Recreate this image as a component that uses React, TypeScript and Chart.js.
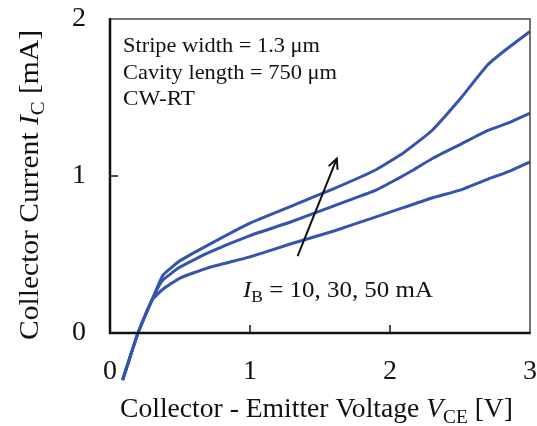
import React, { useEffect, useRef } from "react";
import { Chart, registerables } from "chart.js";

Chart.register(...registerables);

const vce10 = [0.09, 0.2, 0.3, 0.38, 0.5, 0.7, 1.0, 1.3, 1.6, 1.9, 2.1, 2.3, 2.5, 2.7, 2.85, 3.0];
const ic10 = [-0.3, 0, 0.21, 0.28, 0.35, 0.415, 0.485, 0.57, 0.65, 0.74, 0.8, 0.86, 0.91, 0.98, 1.03, 1.09];
const vce30 = [0.09, 0.2, 0.3, 0.37, 0.5, 0.7, 1.0, 1.3, 1.6, 1.9, 2.05, 2.15, 2.3, 2.5, 2.7, 2.85, 3.0];
const ic30 = [-0.3, 0, 0.21, 0.33, 0.42, 0.51, 0.62, 0.71, 0.81, 0.91, 0.98, 1.03, 1.11, 1.2, 1.29, 1.34, 1.4];
const vce50 = [0.09, 0.2, 0.3, 0.38, 0.5, 0.7, 1.0, 1.3, 1.6, 1.9, 2.1, 2.3, 2.5, 2.7, 2.85, 3.0];
const ic50 = [-0.3, 0, 0.21, 0.37, 0.46, 0.56, 0.7, 0.81, 0.92, 1.04, 1.15, 1.29, 1.49, 1.71, 1.82, 1.92];

const xTicks = [0, 1, 2, 3];
const yTicks = [0, 1, 2];
const infoLines = ["Stripe width = 1.3 μm", "Cavity length = 750 μm", "CW-RT"];
const arrowFrom = { x: 1.34, y: 0.49 };
const arrowTo = { x: 1.62, y: 1.11 };

const SERIF = '"Liberation Serif", "Times New Roman", serif';
const LINE_COLOR = "#3554ae";

type Run = { t: string; italic?: boolean; sub?: boolean };

function drawRuns(ctx: CanvasRenderingContext2D, runs: Run[], size: number, target: number | null) {
  const subSize = size * 0.7;
  const fontOf = (r: Run) => `${r.italic ? "italic " : ""}${r.sub ? subSize : size}px ${SERIF}`;
  let total = 0;
  const widths = runs.map((r) => {
    ctx.font = fontOf(r);
    const w = ctx.measureText(r.t).width;
    total += w;
    return w;
  });
  const sx = target ? target / total : 1;
  ctx.save();
  ctx.scale(sx, 1);
  ctx.textAlign = "left";
  ctx.textBaseline = "alphabetic";
  let x = 0;
  runs.forEach((r, i) => {
    ctx.font = fontOf(r);
    ctx.fillText(r.t, x, r.sub ? size * 0.22 : 0);
    x += widths[i];
  });
  ctx.restore();
}

const decorPlugin = {
  id: "decor",
  afterDatasetsDraw(chart: any) {
    const { ctx, chartArea, scales } = chart;
    const { left, right, top, bottom } = chartArea;
    const xs = scales.x;
    const ys = scales.y;
    ctx.save();
    // frame
    ctx.lineCap = "butt";
    ctx.strokeStyle = "#444";
    ctx.lineWidth = 1.5;
    ctx.beginPath();
    ctx.moveTo(left, top);
    ctx.lineTo(right, top);
    ctx.lineTo(right, bottom);
    ctx.stroke();
    ctx.strokeStyle = "#111";
    ctx.lineWidth = 2.5;
    ctx.beginPath();
    ctx.moveTo(left, top - 1);
    ctx.lineTo(left, bottom);
    ctx.lineTo(right + 0.75, bottom);
    ctx.stroke();
    // inner ticks
    ctx.lineWidth = 1.5;
    xTicks.slice(1, -1).forEach((v) => {
      const px = xs.getPixelForValue(v);
      ctx.beginPath();
      ctx.moveTo(px, bottom);
      ctx.lineTo(px, bottom - 8);
      ctx.stroke();
    });
    yTicks.slice(1, -1).forEach((v) => {
      const py = ys.getPixelForValue(v);
      ctx.beginPath();
      ctx.moveTo(left, py);
      ctx.lineTo(left + 8, py);
      ctx.stroke();
    });
    // arrow
    const ax0 = xs.getPixelForValue(arrowFrom.x);
    const ay0 = ys.getPixelForValue(arrowFrom.y);
    const ax1 = xs.getPixelForValue(arrowTo.x);
    const ay1 = ys.getPixelForValue(arrowTo.y);
    ctx.strokeStyle = "#111";
    ctx.lineWidth = 2;
    ctx.beginPath();
    ctx.moveTo(ax0, ay0);
    ctx.lineTo(ax1, ay1);
    ctx.stroke();
    const ang = Math.atan2(ay1 - ay0, ax1 - ax0);
    const hl = 11;
    ctx.beginPath();
    ctx.moveTo(ax1 - hl * Math.cos(ang - 0.45), ay1 - hl * Math.sin(ang - 0.45));
    ctx.lineTo(ax1, ay1);
    ctx.lineTo(ax1 - hl * Math.cos(ang + 0.45), ay1 - hl * Math.sin(ang + 0.45));
    ctx.stroke();

    ctx.fillStyle = "#111";
    // info text
    const infoTargets = [197, 214, 72];
    infoLines.forEach((t, i) => {
      ctx.save();
      ctx.translate(left + 13, top + 33 + i * 26.5);
      drawRuns(ctx, [{ t }], 21, infoTargets[i]);
      ctx.restore();
    });
    // I_B label
    ctx.save();
    ctx.translate(243, 297);
    drawRuns(
      ctx,
      [{ t: "I", italic: true }, { t: "B", sub: true }, { t: " = 10, 30, 50 mA" }],
      23,
      190
    );
    ctx.restore();
    // x title
    ctx.save();
    ctx.translate(120, 417);
    drawRuns(
      ctx,
      [{ t: "Collector - Emitter Voltage " }, { t: "V", italic: true }, { t: "CE", sub: true }, { t: " [V]" }],
      28,
      393
    );
    ctx.restore();
    // y title
    ctx.save();
    ctx.translate(38, 340);
    ctx.rotate(-Math.PI / 2);
    drawRuns(
      ctx,
      [{ t: "Collector Current " }, { t: "I", italic: true }, { t: "C", sub: true }, { t: " [mA]" }],
      28,
      310
    );
    ctx.restore();
    ctx.restore();
  },
};

function mk(xs: number[], ys: number[], label: string) {
  return {
    label,
    data: xs.map((x, i) => ({ x, y: ys[i] })),
    borderColor: LINE_COLOR,
    borderWidth: 3,
    pointRadius: 0,
    tension: 0.15,
    fill: false,
    clip: false as any,
  };
}

export default function App() {
  const ref = useRef<HTMLCanvasElement | null>(null);
  useEffect(() => {
    if (!ref.current) return;
    const chart = new Chart(ref.current, {
      type: "line",
      data: {
        datasets: [mk(vce10, ic10, "IB = 10 mA"), mk(vce30, ic30, "IB = 30 mA"), mk(vce50, ic50, "IB = 50 mA")],
      },
      options: {
        responsive: false,
        animation: false,
        devicePixelRatio: 1,
        layout: { padding: { top: 19, right: 7, left: 0, bottom: 0 } },
        plugins: { legend: { display: false }, tooltip: { enabled: false } },
        scales: {
          x: {
            type: "linear",
            min: 0,
            max: 3,
            grid: { display: false, drawTicks: false },
            border: { display: false },
            ticks: {
              stepSize: 1,
              padding: 22,
              color: "#111",
              font: { family: SERIF, size: 28 },
              maxRotation: 0,
            },
            afterFit: (s: any) => {
              s.height = 93;
              s.paddingLeft = 0;
              s.paddingRight = 0;
              s.paddingTop = 0;
              s.paddingBottom = 0;
            },
          },
          y: {
            type: "linear",
            min: 0,
            max: 2,
            grid: { display: false, drawTicks: false },
            border: { display: false },
            ticks: {
              stepSize: 1,
              padding: 24,
              color: "#111",
              font: { family: SERIF, size: 28 },
            },
            afterFit: (s: any) => {
              s.width = 110;
              s.paddingLeft = 0;
              s.paddingRight = 0;
              s.paddingTop = 0;
              s.paddingBottom = 0;
            },
          },
        },
      },
      plugins: [decorPlugin],
    });
    return () => chart.destroy();
  }, []);
  return (
    <div style={{ position: "fixed", left: 0, top: 0, width: 537, height: 426, background: "#fff" }}>
      <canvas ref={ref} width={537} height={426} style={{ width: 537, height: 426, display: "block" }} />
    </div>
  );
}
